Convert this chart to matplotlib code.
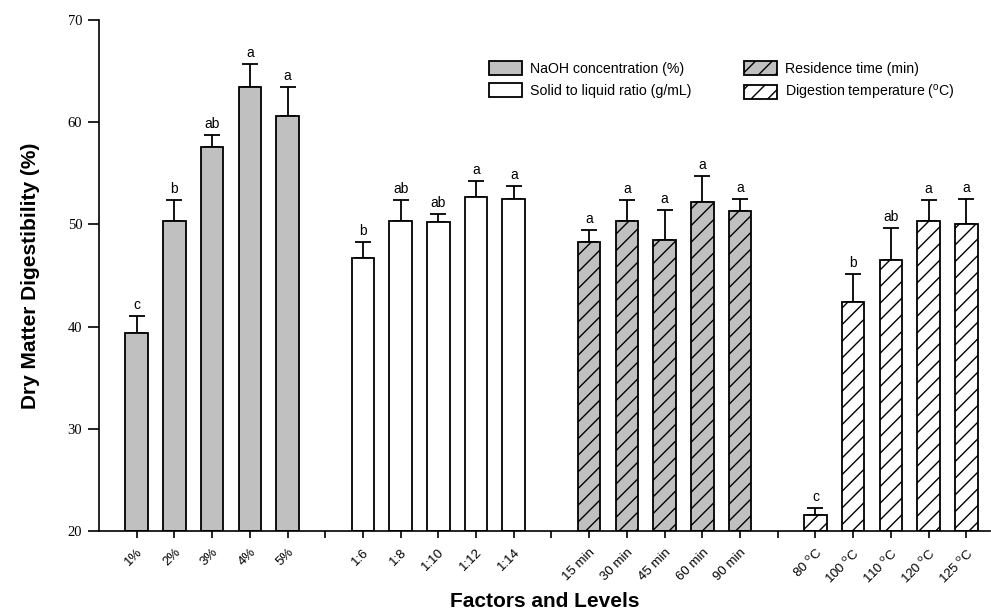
import numpy as np
import matplotlib
matplotlib.use("Agg")
import matplotlib.pyplot as plt

plt.rcParams['font.family'] = ['Liberation Sans', 'DejaVu Sans']
plt.rcParams['mathtext.default'] = 'regular'
plt.rcParams['hatch.linewidth'] = 1.0

# factor groups: levels, mean, top of error bar, letters
naoh_lv = ["1%", "2%", "3%", "4%", "5%"]
naoh_m = [39.4, 50.3, 57.6, 63.4, 60.6]
naoh_top = [41.0, 52.35, 58.7, 65.7, 63.4]
naoh_let = ["c", "b", "ab", "a", "a"]

ratio_lv = ["1:6", "1:8", "1:10", "1:12", "1:14"]
ratio_m = [46.75, 50.3, 50.2, 52.7, 52.45]
ratio_top = [48.3, 52.35, 51.0, 54.25, 53.75]
ratio_let = ["b", "ab", "ab", "a", "a"]

time_lv = ["15 min", "30 min", "45 min", "60 min", "90 min"]
time_m = [48.25, 50.3, 48.5, 52.2, 51.3]
time_top = [49.45, 52.35, 51.4, 54.7, 52.5]
time_let = ["a", "a", "a", "a", "a"]

temp_lv = ["80 $^{o}$C", "100 $^{o}$C", "110 $^{o}$C", "120 $^{o}$C", "125 $^{o}$C"]
temp_m = [21.6, 42.45, 46.5, 50.3, 50.0]
temp_top = [22.25, 45.15, 49.6, 52.35, 52.5]
temp_let = ["c", "b", "ab", "a", "a"]

groups = [
    ("NaOH concentration (%)", naoh_lv, naoh_m, naoh_top, naoh_let, "#c0c0c0", None),
    ("Solid to liquid ratio (g/mL)", ratio_lv, ratio_m, ratio_top, ratio_let, "white", None),
    ("Residence time (min)", time_lv, time_m, time_top, time_let, "#c0c0c0", "//"),
    ("Digestion temperature ($^{o}$C)", temp_lv, temp_m, temp_top, temp_let, "white", "//"),
]

fig = plt.figure(figsize=(9.91, 6.14), dpi=100)
ax = fig.add_axes([99 / 991, 83 / 614, 891 / 991, 511 / 614])

ticks = []
ticklabels = []
handles = []
pos = 0
for gi, (name, lv, m, top, let, fc, hatch) in enumerate(groups):
    x = np.arange(len(lv)) + pos
    m = np.array(m)
    err = np.array(top) - m
    h = ax.bar(x, m - 20, bottom=20, width=0.6, color=fc, edgecolor="black",
               linewidth=1.3, hatch=hatch, label=name, zorder=2)
    handles.append(h)
    ax.errorbar(x, m, yerr=[np.zeros_like(err), err], fmt="none", ecolor="black",
                elinewidth=1.3, capsize=5.8, capthick=1.3, zorder=1)
    for xi, ti, li in zip(x, top, let):
        ax.annotate(li, (xi, ti), xytext=(0, 3), textcoords="offset points",
                    ha="center", va="bottom", fontsize=10)
    ticks += list(x)
    ticklabels += lv
    pos += len(lv)
    if gi < len(groups) - 1:
        ticks.append(pos)
        ticklabels.append("")
        pos += 1

ax.set_xticks(ticks)
ax.set_xticklabels(ticklabels, rotation=45, ha="right", rotation_mode="anchor", fontsize=9.5)
ax.tick_params(axis="x", length=5, width=1.2, pad=6)
ax.set_xlim(-1, 22.63)
ax.set_ylim(20, 70)
ax.set_yticks([20, 30, 40, 50, 60, 70])
for t in ax.get_yticklabels():
    t.set_fontfamily("Liberation Serif")
    t.set_fontsize(10.5)
ax.tick_params(axis="y", length=8, width=1.2, pad=4)

ax.spines["top"].set_visible(False)
ax.spines["right"].set_visible(False)
ax.spines["left"].set_linewidth(1.2)
ax.spines["bottom"].set_linewidth(1.2)

ax.set_ylabel("Dry Matter Digestibility (%)", fontsize=15, fontweight="bold", labelpad=20)
ax.set_xlabel("Factors and Levels", fontsize=15, fontweight="bold", labelpad=4)

ax.legend(handles=handles, loc="upper left", bbox_to_anchor=(0.43, 0.933), ncol=2,
          frameon=False, fontsize=10.2, handlelength=2.3, handleheight=1.13,
          handletextpad=0.56, columnspacing=3.75, labelspacing=0.5, borderpad=0)

fig.savefig("out.png", dpi=100)
